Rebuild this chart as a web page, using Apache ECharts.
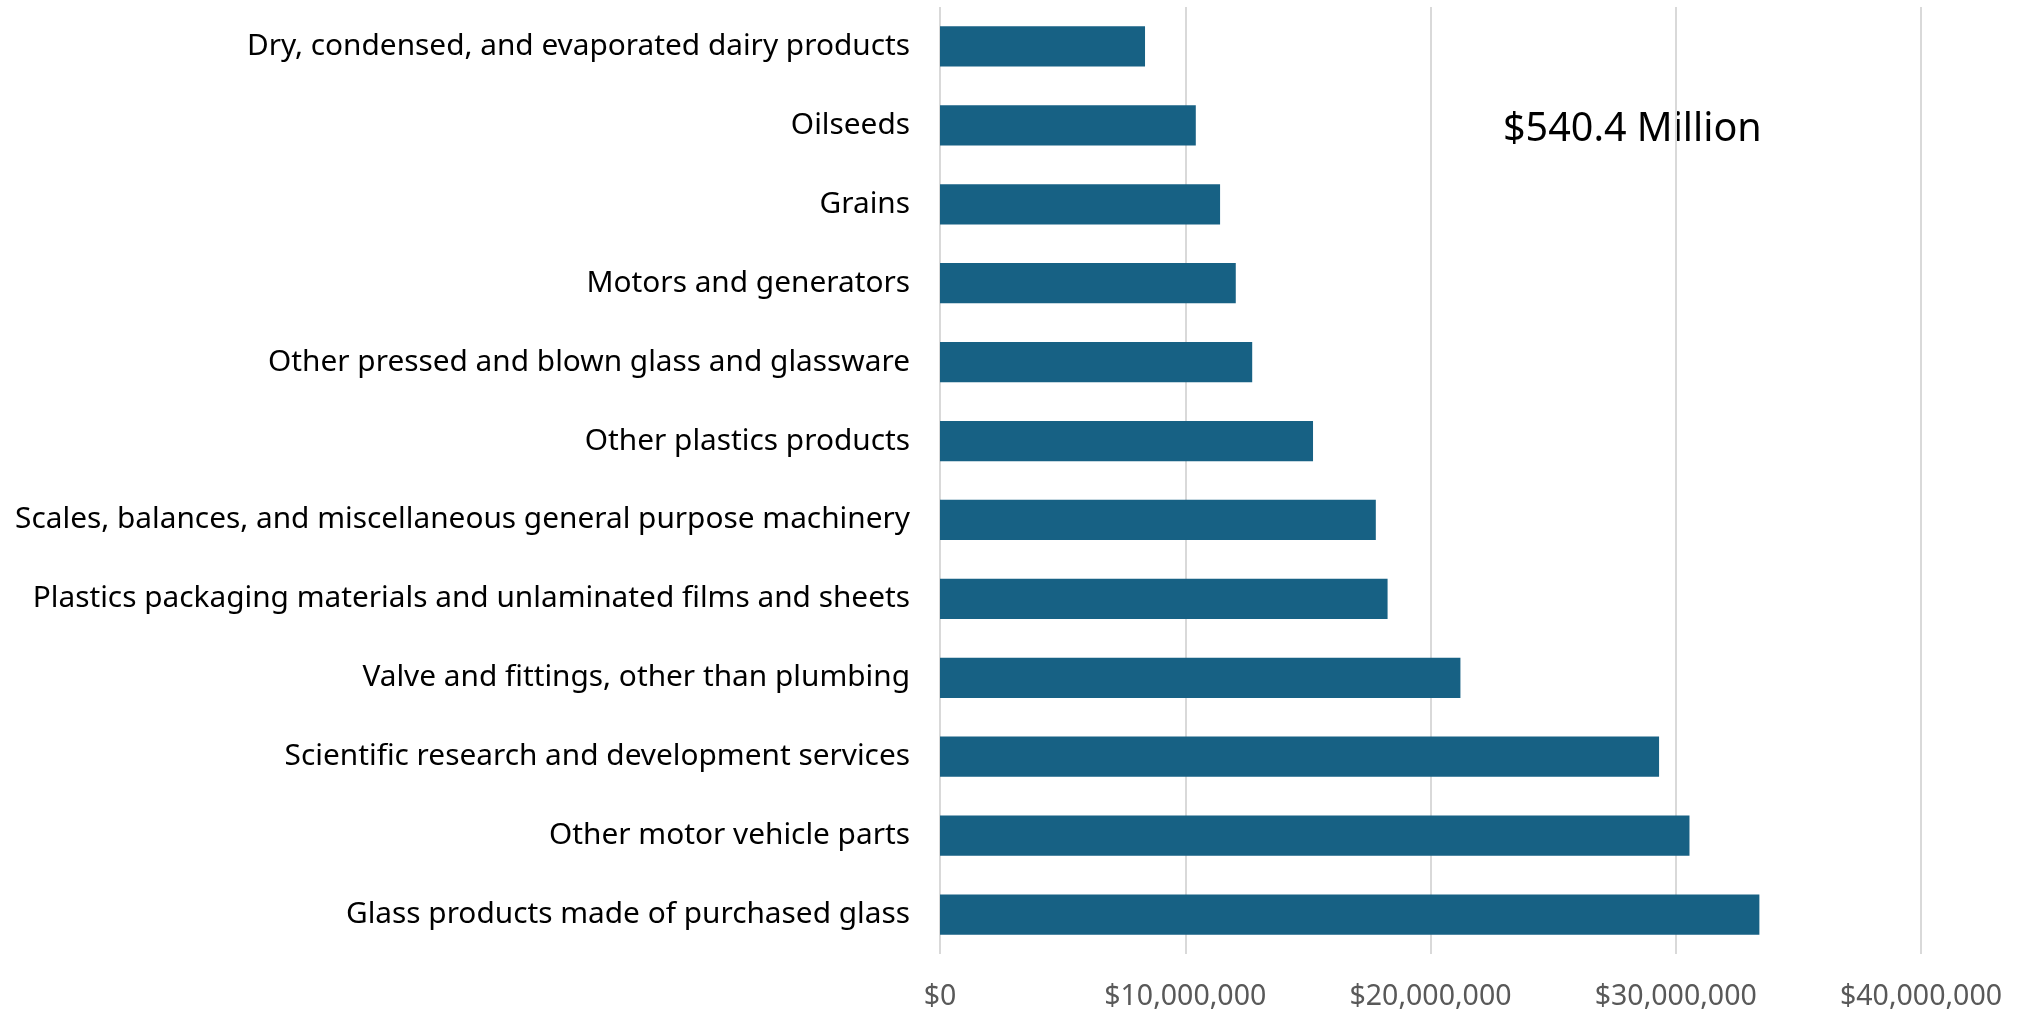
<!DOCTYPE html>
<html lang="en" style="height: 100%">
<head>
    <meta charset="UTF-8">
    <title>Top products</title>
    <script src="https://cdn.jsdelivr.net/npm/echarts@6/dist/echarts.min.js"></script>
</head>
<body style="height: 100%; margin: 0">
<div id="main" style="width: 2021px; height: 1013px"></div>
<script>
    // bottom-to-top order (category axis starts at the bottom)
    var categories = [
        'Glass products made of purchased glass',
        'Other motor vehicle parts',
        'Scientific research and development services',
        'Valve and fittings, other than plumbing',
        'Plastics packaging materials and unlaminated films and sheets',
        'Scales, balances, and miscellaneous general purpose machinery',
        'Other plastics products',
        'Other pressed and blown glass and glassware',
        'Motors and generators',
        'Grains',
        'Oilseeds',
        'Dry, condensed, and evaporated dairy products'
    ];
    var values = [33410000, 30560000, 29320000, 21220000, 18250000, 17770000,
                  15210000, 12730000, 12060000, 11420000, 10430000, 8360000];
    var totalLabel = '$540.4 Million';

    function money(v) {
        return '$' + v.toString().replace(/\B(?=(\d{3})+(?!\d))/g, ',');
    }

    var myChart = echarts.init(document.getElementById('main'));
    myChart.setOption({
        animation: false,
        textStyle: {fontFamily: 'Noto Sans'},
        grid: {left: 940, right: 100, top: 7, bottom: 59},
        xAxis: {
            type: 'value',
            min: 0,
            max: 40000000,
            interval: 10000000,
            axisLine: {show: false},
            axisTick: {show: false},
            splitLine: {lineStyle: {color: '#d9d9d9', width: 2}},
            axisLabel: {
                formatter: money,
                color: '#595959',
                fontSize: 28.5,
                margin: 28
            }
        },
        yAxis: {
            type: 'category',
            data: categories,
            axisLine: {show: false},
            axisTick: {show: false},
            axisLabel: {color: '#000000', fontSize: 29.8, margin: 30}
        },
        series: [{
            type: 'bar',
            data: values,
            barCategoryGap: '49%',
            itemStyle: {color: '#176184'}
        }],
        graphic: [{
            type: 'text',
            left: 1503,
            top: 110,
            style: {text: totalLabel, fontSize: 39.5, fill: '#000000', fontFamily: 'Noto Sans'}
        }]
    });
</script>
</body>
</html>
